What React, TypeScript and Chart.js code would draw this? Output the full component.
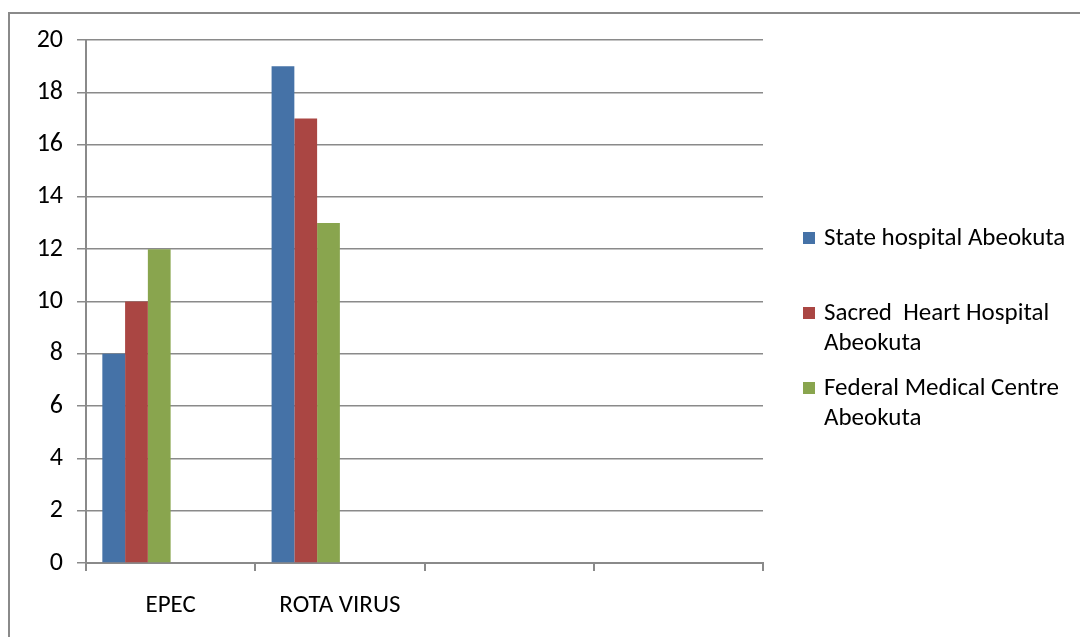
import React, { useEffect, useRef } from "react";
import { Chart, registerables } from "chart.js";

Chart.register(...registerables);

const categories = ["EPEC", "ROTA VIRUS", "", ""];
const stateHospital = [8, 19, null, null];
const sacredHeart = [10, 17, null, null];
const federalMedical = [12, 13, null, null];
const emptySeries = [null, null, null, null];

const seriesLabels = [
  "State hospital Abeokuta",
  "Sacred  Heart Hospital Abeokuta",
  "Federal Medical Centre Abeokuta",
];
const legendLines = [
  ["State hospital Abeokuta"],
  ["Sacred  Heart Hospital", "Abeokuta"],
  ["Federal Medical Centre", "Abeokuta"],
];
const seriesColors = ["#4572A7", "#AA4643", "#89A54E"];

const FONT = "Carlito, Lato, sans-serif";
const GRID = "#8a8a8a";

const legendPlugin = {
  id: "customLegend",
  afterDraw(chart: any) {
    const ctx = chart.ctx;
    ctx.save();
    // outer frame
    ctx.strokeStyle = GRID;
    ctx.lineWidth = 2;
    ctx.strokeRect(9, 13, 2000, 2000);
    ctx.font = `25px ${FONT}`;
    ctx.textBaseline = "middle";
    ctx.textAlign = "left";
    ctx.fillStyle = "#000";
    legendLines.forEach((lines, i) => {
      const y0 = 238 + i * 75;
      ctx.fillStyle = seriesColors[i];
      ctx.fillRect(803, y0 - 6, 12, 12);
      ctx.fillStyle = "#000";
      lines.forEach((ln, j) => {
        ctx.fillText(ln, 824, y0 + j * 30 + 1);
      });
    });
    ctx.restore();
  },
};

export default function App() {
  const ref = useRef<HTMLCanvasElement>(null);
  useEffect(() => {
    if (!ref.current) return;
    const datasets: any[] = [stateHospital, sacredHeart, federalMedical].map((d, i) => ({
      label: seriesLabels[i],
      data: d,
      backgroundColor: seriesColors[i],
      borderWidth: 0,
      barPercentage: 1,
      categoryPercentage: 0.807,
    }));
    for (let k = 0; k < 3; k++) {
      datasets.push({
        label: "",
        data: emptySeries,
        backgroundColor: "transparent",
        barPercentage: 1,
        categoryPercentage: 0.807,
      });
    }
    const chart = new Chart(ref.current, {
      type: "bar",
      data: { labels: categories, datasets },
      options: {
        animation: false,
        responsive: false,
        devicePixelRatio: 1,
        layout: { padding: { left: 0, top: 40, right: 317, bottom: 0 } },
        plugins: { legend: { display: false }, tooltip: { enabled: false } },
        scales: {
          x: {
            offset: true,
            grid: {
              offset: true,
              drawOnChartArea: false,
              drawTicks: true,
              tickLength: 8,
              color: GRID,
              lineWidth: 2,
            },
            border: { display: true, color: GRID, width: 2 },
            ticks: { color: "#000", font: { family: FONT, size: 25 }, padding: 20, maxRotation: 0 },
            afterFit: (s: any) => {
              s.height = 74;
            },
          },
          y: {
            min: 0,
            max: 20,
            ticks: { stepSize: 2, color: "#000", font: { family: FONT, size: 26 }, padding: 14 },
            grid: { color: GRID, lineWidth: 1.5, tickLength: 9 },
            border: { display: true, color: GRID, width: 2 },
            afterFit: (s: any) => {
              s.width = 86;
            },
          },
        },
      },
      plugins: [legendPlugin],
    });
    return () => chart.destroy();
  }, []);
  return (
    <div style={{ position: "fixed", left: 0, top: 0, width: 1080, height: 637, background: "#fff" }}>
      <canvas ref={ref} width={1080} height={637} style={{ display: "block" }} />
    </div>
  );
}
